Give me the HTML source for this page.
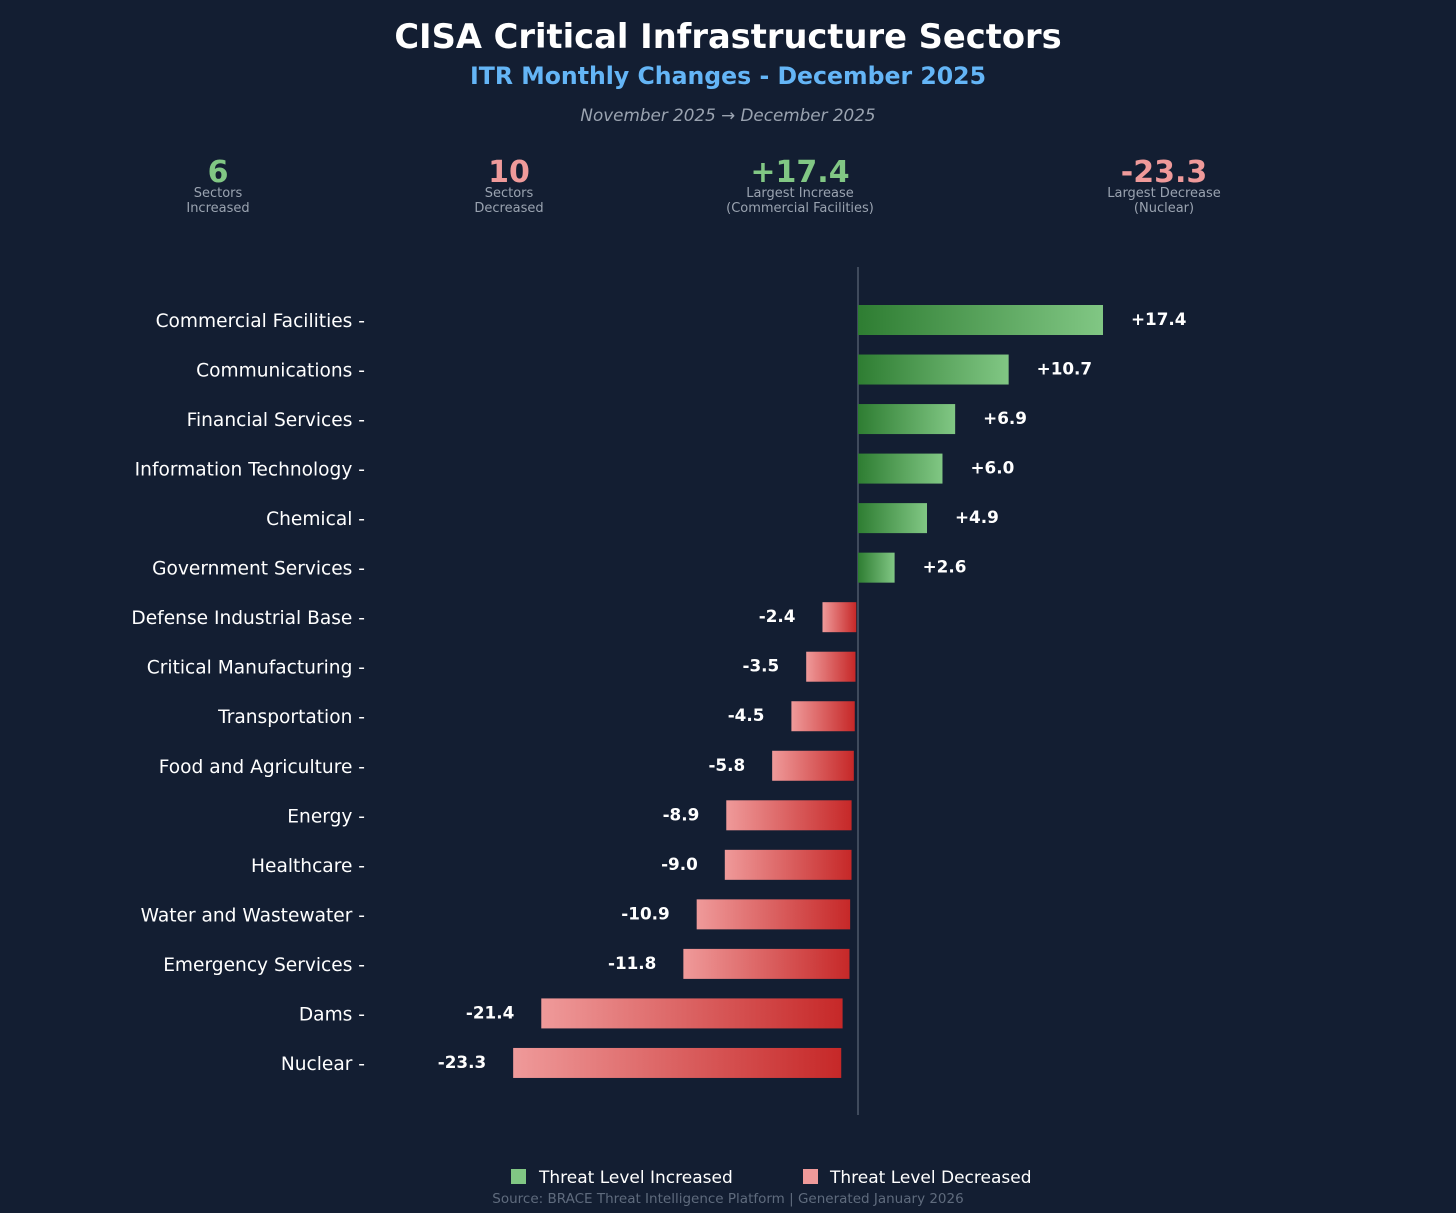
<!DOCTYPE html>
<html><head><meta charset="utf-8"><style>
html,body{margin:0;padding:0;background:#131e32;}
svg{display:block;font-family:"DejaVu Sans","Liberation Sans",sans-serif;}
</style></head><body>
<svg id="chart" width="1456" height="1213" viewBox="0 0 1456 1213" xmlns="http://www.w3.org/2000/svg">
<defs>
<linearGradient id="gGreen" x1="0" x2="1" y1="0" y2="0"><stop offset="0" stop-color="#2e7d32"/><stop offset="1" stop-color="#81c784"/></linearGradient>
<linearGradient id="gRed" x1="0" x2="1" y1="0" y2="0"><stop offset="0" stop-color="#ef9a9a"/><stop offset="1" stop-color="#c62828"/></linearGradient>
</defs>
<rect width="1456" height="1213" fill="#131e32"/>
<text x="728" y="48" text-anchor="middle" fill="#ffffff" font-size="33.7" font-weight="bold">CISA Critical Infrastructure Sectors</text>
<text x="728" y="84" text-anchor="middle" fill="#64b5f6" font-size="23.6" font-weight="bold">ITR Monthly Changes - December 2025</text>
<text x="728" y="121" text-anchor="middle" fill="#9aa3b0" font-size="16.8" font-style="italic">November 2025 → December 2025</text>
<g>
<text x="218" y="182" text-anchor="middle" fill="#81c784" font-size="30" font-weight="bold">6</text>
<text x="218" y="197" text-anchor="middle" fill="#9aa3b0" font-size="13">Sectors</text>
<text x="218" y="212" text-anchor="middle" fill="#9aa3b0" font-size="13">Increased</text></g>
<g>
<text x="509" y="182" text-anchor="middle" fill="#ef9a9a" font-size="30" font-weight="bold">10</text>
<text x="509" y="197" text-anchor="middle" fill="#9aa3b0" font-size="13">Sectors</text>
<text x="509" y="212" text-anchor="middle" fill="#9aa3b0" font-size="13">Decreased</text></g>
<g>
<text x="800" y="182" text-anchor="middle" fill="#81c784" font-size="30" font-weight="bold">+17.4</text>
<text x="800" y="197" text-anchor="middle" fill="#9aa3b0" font-size="13">Largest Increase</text>
<text x="800" y="212" text-anchor="middle" fill="#9aa3b0" font-size="13">(Commercial Facilities)</text></g>
<g>
<text x="1164" y="182" text-anchor="middle" fill="#ef9a9a" font-size="30" font-weight="bold">-23.3</text>
<text x="1164" y="197" text-anchor="middle" fill="#9aa3b0" font-size="13">Largest Decrease</text>
<text x="1164" y="212" text-anchor="middle" fill="#9aa3b0" font-size="13">(Nuclear)</text></g>
<line x1="858" y1="267" x2="858" y2="1115" stroke="#6b7585" stroke-width="1"/>
<g id="bars"></g>
<g>
<rect x="511" y="1169" width="15" height="15" fill="#81c784"/>
<text x="539" y="1183" fill="#ffffff" font-size="17">Threat Level Increased</text>
<rect x="803" y="1169" width="15" height="15" fill="#ef9a9a"/>
<text x="830" y="1183" fill="#ffffff" font-size="17">Threat Level Decreased</text>
</g>
<text x="728" y="1203" text-anchor="middle" fill="#5f6b7d" font-size="13.5">Source: BRACE Threat Intelligence Platform | Generated January 2026</text>
</svg>
<script>
const sectors = ["Commercial Facilities","Communications","Financial Services","Information Technology","Chemical","Government Services","Defense Industrial Base","Critical Manufacturing","Transportation","Food and Agriculture","Energy","Healthcare","Water and Wastewater","Emergency Services","Dams","Nuclear"];
const changes = [17.4,10.7,6.9,6.0,4.9,2.6,-2.4,-3.5,-4.5,-5.8,-8.9,-9.0,-10.9,-11.8,-21.4,-23.3];
const NS="http://www.w3.org/2000/svg";
const g=document.getElementById('bars');
const zero=858, scale=14.08;
const yC=i=>320+i*49.53;
function mk(t,a){const e=document.createElementNS(NS,t);for(const k in a)e.setAttribute(k,a[k]);return e;}
sectors.forEach((s,i)=>{
  const v=changes[i], y=yC(i);
  const lab=mk('text',{x:365,y:y+7,'text-anchor':'end',fill:'#ffffff','font-size':18.6});
  lab.textContent=s+' -';
  
  
  g.appendChild(lab);
  let x,w;
  if(v>=0){x=zero;w=v*scale;}else{x=zero+v*14.8;w=-v*scale;}
  const r=mk('rect',{x:x,y:y-15,width:w,height:30,fill:v>=0?'url(#gGreen)':'url(#gRed)'});
  
  
  g.appendChild(r);
  const vt=mk('text',{y:y+5,fill:'#ffffff','font-size':16.8,'font-weight':'bold'});
  if(v>=0){vt.setAttribute('x',x+w+28);vt.setAttribute('text-anchor','start');vt.textContent='+'+v.toFixed(1);}
  else{vt.setAttribute('x',x-27);vt.setAttribute('text-anchor','end');vt.textContent=v.toFixed(1);}
  
  
  g.appendChild(vt);
});
</script>
</body></html>
